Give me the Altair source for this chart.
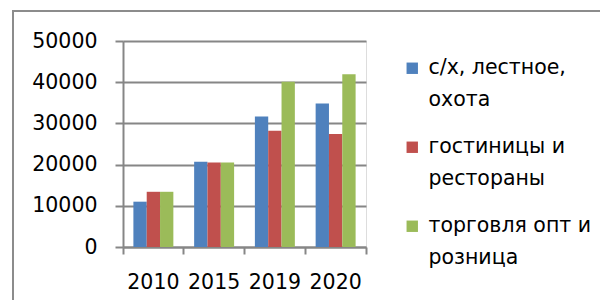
import json
import altair as alt
import pandas as pd

years = ["2010", "2015", "2019", "2020"]
series = ["с/х, лестное, охота", "гостиницы и рестораны", "торговля опт и розница"]
series_lines = [["с/х, лестное,", "охота"], ["гостиницы и", "рестораны"], ["торговля опт и", "розница"]]
agri = [11000, 20700, 31700, 34800]
hotels = [13400, 20500, 28200, 27400]
trade = [13400, 20500, 40100, 41900]
colors = ["#4F81BD", "#C0504D", "#9BBB59"]
y_ticks = [0, 10000, 20000, 30000, 40000, 50000]

rows = []
for s, vals in zip(series, [agri, hotels, trade]):
    for yr, v in zip(years, vals):
        rows.append({"year": yr, "series": s, "value": v})
df = pd.DataFrame(rows)

expr = json.dumps(series_lines[-1], ensure_ascii=False)
for s, lines in reversed(list(zip(series[:-1], series_lines[:-1]))):
    expr = f"datum.label == {json.dumps(s, ensure_ascii=False)} ? {json.dumps(lines, ensure_ascii=False)} : ({expr})"

FONT = "DejaVu Sans"
FS = 20.5
GRAY = "#868686"

bars = alt.Chart(df).mark_bar().encode(
    x=alt.X(
        "year:N", sort=years,
        scale=alt.Scale(paddingInner=0, paddingOuter=0),
        axis=alt.Axis(title=None, labelAngle=0, bandPosition=1, tickExtra=True,
                      tickSize=7, tickColor=GRAY, tickWidth=2,
                      domainColor=GRAY, domainWidth=2, grid=False,
                      labelFont=FONT, labelFontSize=FS, labelColor="#000000",
                      labelPadding=18),
    ),
    xOffset=alt.XOffset("series:N", sort=series,
                        scale=alt.Scale(paddingOuter=0.78, paddingInner=0)),
    y=alt.Y(
        "value:Q",
        scale=alt.Scale(domain=[0, 50000]),
        axis=alt.Axis(title=None, values=y_ticks, format="d", grid=True, gridColor=GRAY, gridWidth=2,
                      domainColor=GRAY, domainWidth=2, tickColor=GRAY, tickWidth=2, tickSize=8,
                      labelFont=FONT, labelFontSize=FS, labelColor="#000000", labelPadding=18),
    ),
    color=alt.Color(
        "series:N", sort=series,
        scale=alt.Scale(domain=series, range=colors),
        legend=alt.Legend(title=None, orient="none", legendX=279, legendY=17,
                          symbolType="square", symbolSize=130, symbolStrokeWidth=0,
                          labelFont=FONT, labelFontSize=FS, labelColor="#000000",
                          labelOffset=6, labelLimit=300, rowPadding=26, padding=0,
                          labelBaseline="middle", labelExpr=expr),
    ),
)

one = pd.DataFrame({"k": [0]})
frame_left = alt.Chart(one).mark_rule(color="#8c8c8c", strokeWidth=2).encode(
    x=alt.value(-110), y=alt.value(-30), y2=alt.value(300))
frame_top = alt.Chart(one).mark_rule(color="#8c8c8c", strokeWidth=2).encode(
    x=alt.value(-111), x2=alt.value(600), y=alt.value(-30))

chart = alt.layer(bars, frame_left, frame_top).properties(
    width=243, height=206,
    autosize=alt.AutoSizeParams(type="none"),
    padding={"left": 115, "top": 33, "right": 234, "bottom": 53},
).configure_view(stroke=None).configure(
    style={"guide-label": {"lineHeight": 32}}
)

chart.save("out.html", embed_options={"renderer": "svg", "actions": False})
